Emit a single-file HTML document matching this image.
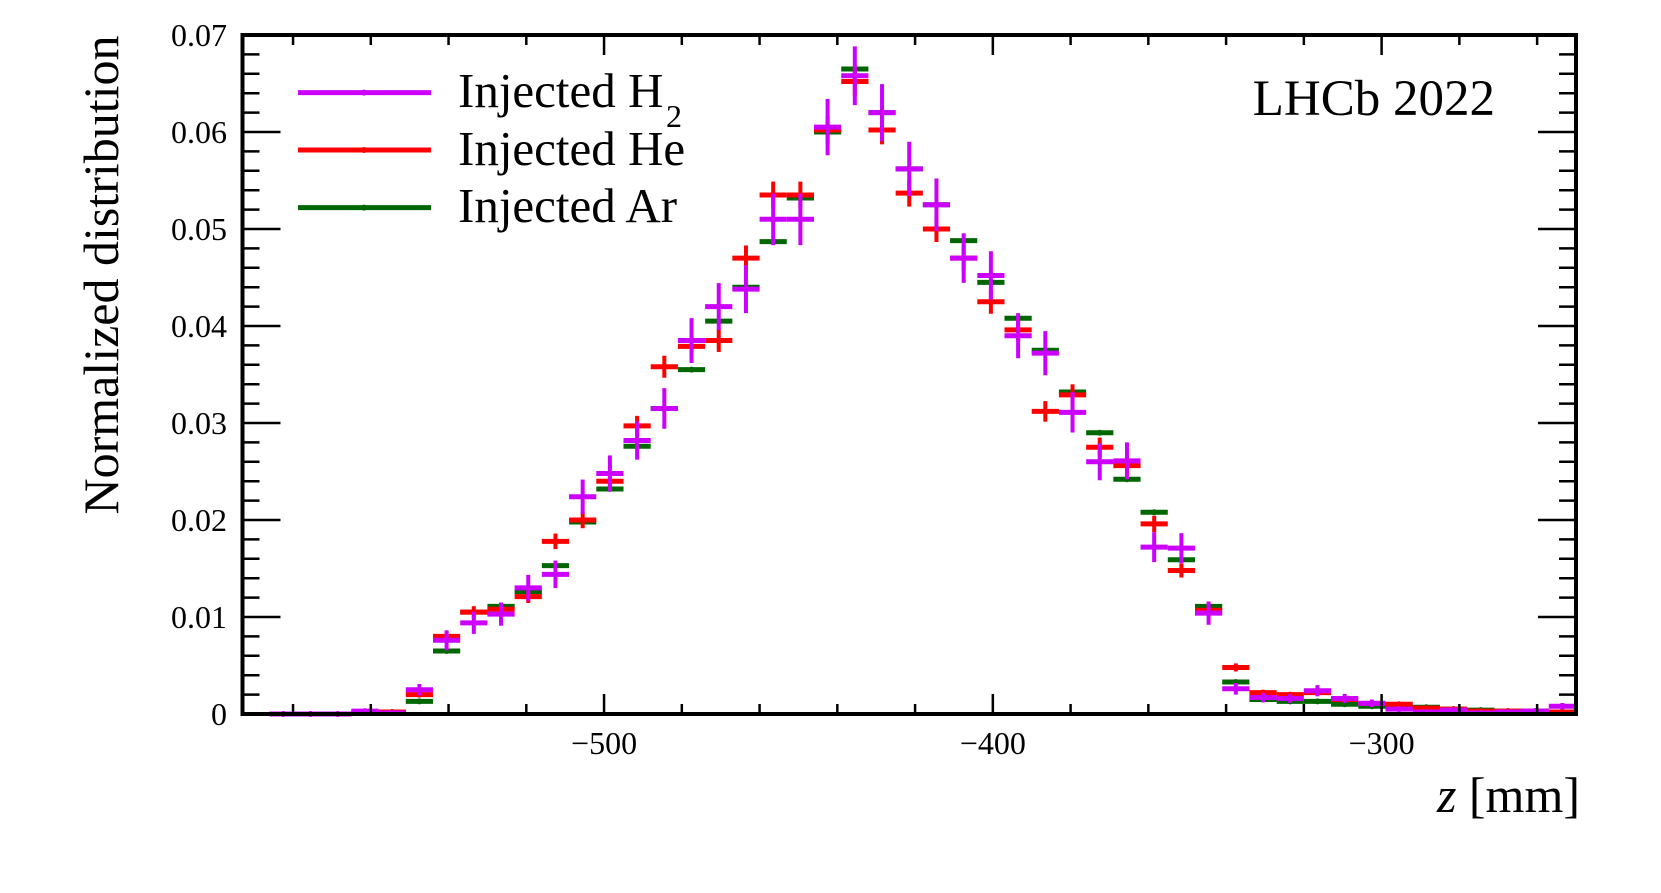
<!DOCTYPE html>
<html><head><meta charset="utf-8"><style>
html,body{margin:0;padding:0;background:#fff;}
svg{display:block;font-family:"Liberation Serif",serif;}
</style></head><body>
<svg id="chart" width="1661" height="893" viewBox="0 0 1661 893">
<g id="marks"></g>
<g id="axes"></g>
<g>
  <g>
    <line x1="298" y1="92.6" x2="431" y2="92.6" stroke="#cc00ff" stroke-width="5"/>
    <circle cx="364" cy="92.6" r="3" fill="#cc00ff"/>
    <text x="458" y="107" font-size="49">Injected H</text>
    <text x="666" y="127" font-size="32">2</text>
  </g>
  <g>
    <line x1="298" y1="150" x2="431" y2="150" stroke="#ff0000" stroke-width="5"/>
    <circle cx="364" cy="150" r="3" fill="#ff0000"/>
    <text x="458" y="165" font-size="49">Injected He</text>
  </g>
  <g>
    <line x1="298" y1="207.6" x2="431" y2="207.6" stroke="#006600" stroke-width="5"/>
    <circle cx="364" cy="207.6" r="3" fill="#006600"/>
    <text x="458" y="222" font-size="49">Injected Ar</text>
  </g>
</g>
<text x="1495" y="115" font-size="51" text-anchor="end">LHCb 2022</text>
<text x="1580" y="812" font-size="50" text-anchor="end"><tspan font-style="italic">z</tspan> [mm]</text>
<text transform="translate(118,275) rotate(-90)" font-size="50" text-anchor="middle">Normalized distribution</text>
</svg>
<script>
const binStart = -586, binWidth = 7;
const h2Values = [0,0,0,0.0003,0.0001,0.0025,0.0076,0.0094,0.0103,0.0130,0.0144,0.0224,0.0248,0.0282,0.0315,0.0385,0.0420,0.0438,0.0510,0.0510,0.0605,0.0658,0.0620,0.0562,0.0525,0.0470,0.0452,0.0390,0.0372,0.0311,0.0260,0.0261,0.0172,0.0171,0.0104,0.0026,0.0017,0.0016,0.0024,0.0016,0.0011,0.0005,0.0002,0.0004,0.0001,0.0002,0.0003,0.0008];
const heValues = [0,0,0,0.0002,0.0002,0.0020,0.0080,0.0105,0.0108,0.0121,0.0178,0.0200,0.0240,0.0297,0.0358,0.0379,0.0385,0.0470,0.0535,0.0535,0.0602,0.0652,0.0602,0.0537,0.0500,0.0470,0.0425,0.0396,0.0312,0.0329,0.0275,0.0256,0.0196,0.0148,0.0107,0.0048,0.0022,0.0020,0.0022,0.0015,0.0011,0.0010,0.0006,0.0005,0.0003,0.0003,0.0003,0.0002];
const arValues = [0,0,0,0.0001,0.0002,0.0013,0.0065,0.0105,0.0111,0.0126,0.0153,0.0198,0.0232,0.0276,0.0315,0.0355,0.0405,0.0440,0.0487,0.0532,0.0600,0.0665,0.0620,0.0562,0.0525,0.0488,0.0445,0.0408,0.0375,0.0332,0.0290,0.0242,0.0208,0.0159,0.0111,0.0033,0.0015,0.0013,0.0013,0.0010,0.0008,0.0008,0.0007,0.0005,0.0004,0.0003,0.0003,0.0002];
const yTicks = [0,0.01,0.02,0.03,0.04,0.05,0.06,0.07];
const yTickLabels = ["0","0.01","0.02","0.03","0.04","0.05","0.06","0.07"];
const xTicks = [-500,-400,-300];
const xTickLabels = ["\u2212500","\u2212400","\u2212300"];

const NS="http://www.w3.org/2000/svg";
const X0=242.5,X1=1576,Y0=714,Y1=35,ZMIN=-593,ZMAX=-250,VMAX=0.07;
function xs(z){return X0+(z-ZMIN)*(X1-X0)/(ZMAX-ZMIN);}
function ys(v){return Y0-v*(Y0-Y1)/VMAX;}
function mk(tag,attrs,parent){const e=document.createElementNS(NS,tag);for(const k in attrs)e.setAttribute(k,attrs[k]);parent.appendChild(e);return e;}
const marks=document.getElementById('marks');
const axes=document.getElementById('axes');
function drawSeries(vals,color,errScale,name){
  const g=mk('g',{},marks);
  
  
  vals.forEach((v,i)=>{
    const zl=binStart+i*binWidth, zr=zl+binWidth, zc=zl+binWidth/2;
    const err=errScale*Math.sqrt(v);
    const p=mk('g',{},g);
    
    
    mk('line',{x1:xs(zl),x2:xs(zr),y1:ys(v),y2:ys(v),stroke:color,'stroke-width':5},p);
    if(err>0) mk('line',{x1:xs(zc),x2:xs(zc),y1:ys(v+err),y2:ys(Math.max(0,v-err)),stroke:color,'stroke-width':4},p);
    mk('circle',{cx:xs(zc),cy:ys(v),r:3,fill:color},p);
  });
}
drawSeries(arValues,'#006600',0.0012,'ar');
drawSeries(heValues,'#ff0000',0.006,'he');
drawSeries(h2Values,'#cc00ff',0.0118,'h2');

const fr=mk('rect',{x:X0,y:Y1,width:X1-X0,height:Y0-Y1,fill:'none',stroke:'#000','stroke-width':4},axes);


for(let k=0;k<=35;k++){
  const v=k*0.002, y=ys(v), major=(k%5===0), L=major?38:17;
  mk('line',{x1:X0,x2:X0+L,y1:y,y2:y,stroke:'#000','stroke-width':2.5},axes);
  mk('line',{x1:X1,x2:X1-L,y1:y,y2:y,stroke:'#000','stroke-width':2.5},axes);
}
yTicks.forEach((v,i)=>{
  const t=mk('text',{x:227,y:ys(v)+11,'font-size':32,'text-anchor':'end'},axes);
  t.textContent=yTickLabels[i];
  
  
});
for(let z=-580;z<=-260;z+=20){
  const x=xs(z), major=(z%100===0), L=major?20:10;
  mk('line',{x1:x,x2:x,y1:Y0,y2:Y0-L,stroke:'#000','stroke-width':2.5},axes);
  mk('line',{x1:x,x2:x,y1:Y1,y2:Y1+L,stroke:'#000','stroke-width':2.5},axes);
}
xTicks.forEach((z,i)=>{
  const t=mk('text',{x:xs(z),y:754,'font-size':32,'text-anchor':'middle'},axes);
  t.textContent=xTickLabels[i];
  
  
});
</script>
</body></html>
